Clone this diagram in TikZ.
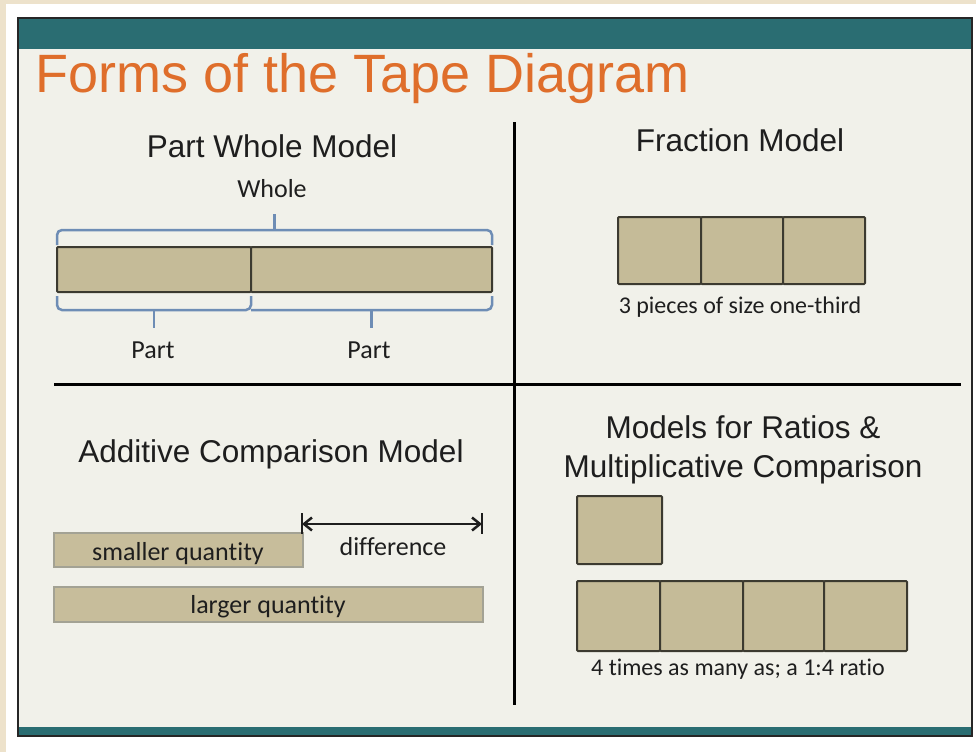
\documentclass[tikz,border=0pt]{standalone}
\usepackage{fontspec}
\setmainfont{Liberation Sans}
\newfontfamily\lblfont[Ligatures=NoCommon]{Carlito}
\usetikzlibrary{arrows.meta,calc}
\definecolor{pagebeige}{HTML}{EDE2CB}
\definecolor{slidebg}{HTML}{F1F1EA}
\definecolor{slideteal}{HTML}{2A6D72}
\definecolor{titleorange}{HTML}{DF6E2B}
\definecolor{tapefill}{HTML}{C5BB98}
\definecolor{tapeline}{HTML}{3C3A30}
\definecolor{qfill}{HTML}{C7BD9B}
\definecolor{qline}{HTML}{A3A294}
\definecolor{braceblue}{HTML}{6E8DB5}
\definecolor{inkdark}{HTML}{1E1E1E}
\begin{document}
\begin{tikzpicture}[x=1pt,y=-1pt,
  cellbox/.style={draw=tapeline, fill=tapefill, line width=2pt, anchor=north west, inner sep=0pt, outer sep=0pt, rounded corners=1pt},
  qbar/.style={draw=qline, fill=qfill, line width=1.5pt, anchor=north west, inner sep=0pt, outer sep=0pt},
  bracepath/.style={draw=braceblue, line width=2.5pt, rounded corners=5pt},
  divider/.style={draw=black, line width=3pt},
  heading/.style={anchor=base, inner sep=0pt, text=inkdark, font=\fontsize{31.5}{38}\selectfont},
  lbl/.style={anchor=base, inner sep=0pt, text=inkdark, font=\lblfont\fontsize{26}{30}\selectfont},
  capt/.style={anchor=base, inner sep=0pt, text=inkdark, font=\lblfont\fontsize{24}{28}\selectfont},
  dline/.style={draw=inkdark, line width=2.5pt}
]
\useasboundingbox (0,0) rectangle (976,752);
% page and slide
\fill[white] (0,0) rectangle (976,752);
\fill[pagebeige] (0,0) rectangle (6,752);
\fill[pagebeige] (0,0) rectangle (976,4);
\fill[slidebg] (18,18) rectangle (972,736);
\fill[slideteal] (18,18) rectangle (972,49);
\fill[slideteal] (18,727) rectangle (972,736);
\draw[black!85, line width=1.5pt] (18,18) rectangle (972,736);

\node[anchor=base west, inner sep=0pt, text=titleorange, font=\fontsize{54}{60}\selectfont] (title) at (35,92) {Forms of the Tape Diagram};

% dividers
\coordinate (hl) at (54,384);
\coordinate (hr) at (961,384);
\coordinate (vt) at (514,122);
\coordinate (vb) at (514,705);
\draw[divider] (hl) -- (hr);
\draw[divider] (vt) -- (vb);

% ---------- Part Whole Model ----------
\node[heading] (pwh) at (272,157) {Part Whole Model};
\node[cellbox, minimum width=194pt, minimum height=45pt] (pw1) at (57,247) {};
\node[cellbox, minimum width=241pt, minimum height=45pt] (pw2) at (251,247) {};
\node[lbl] (whole) at (272,197) {Whole};
\draw[bracepath] ($(pw1.north west)+(0,-2)$) -- ($(pw1.north west)+(0,-17)$) -- ($(pw2.north east)+(0,-17)$) -- ($(pw2.north east)+(0,-2)$);
\coordinate (wt) at ($(pw1.north west)!0.5!(pw2.north east)$);
\draw[draw=braceblue, line width=2.5pt] ($(wt)+(0,-17)$) -- ($(wt)+(0,-33)$);
\draw[bracepath] ($(pw1.south west)+(0,4)$) -- ($(pw1.south west)+(0,18)$) -- ($(pw1.south east)+(0,18)$) -- ($(pw1.south east)+(0,4)$);
\draw[bracepath] ($(pw2.south west)+(0,18)$) -- ($(pw2.south east)+(0,18)$) -- ($(pw2.south east)+(0,4)$);
\coordinate (p1t) at ($(pw1.south west)!0.5!(pw1.south east)$);
\coordinate (p2t) at ($(pw2.south west)!0.5!(pw2.south east)$);
\draw[draw=braceblue, line width=2.5pt] ($(p1t)+(0,18)$) -- ($(p1t)+(0,36)$);
\draw[draw=braceblue, line width=2.5pt] ($(p2t)+(0,18)$) -- ($(p2t)+(0,36)$);
\node[lbl] (part1) at (153,358) {Part};
\node[lbl] (part2) at (369,358) {Part};

% ---------- Fraction Model ----------
\node[heading] (frh) at (740,151) {Fraction Model};
\node[cellbox, minimum width=83pt, minimum height=67pt] (f1) at (618,217) {};
\node[cellbox, minimum width=82pt, minimum height=67pt] (f2) at (701,217) {};
\node[cellbox, minimum width=82pt, minimum height=67pt] (f3) at (783,217) {};
\node[capt] (frc) at (740,313) {3 pieces of size one-third};

% ---------- Additive Comparison Model ----------
\node[heading] (ach) at (271,462) {Additive Comparison Model};
\node[qbar, minimum width=249pt, minimum height=34pt] (sq) at (54,533) {};
\node[lbl] (sqt) at (178,560) {smaller quantity};
\node[qbar, minimum width=429pt, minimum height=35pt] (lq) at (54,587) {};
\node[lbl] (lqt) at (268,613) {larger quantity};
\coordinate (d1) at (302,524);
\coordinate (d2) at (482,524);
\draw[dline] ($(d1)+(0,-11)$) -- ($(d1)+(0,10)$);
\draw[dline] ($(d2)+(0,-11)$) -- ($(d2)+(0,10)$);
\draw[dline, {Straight Barb[length=8pt,width=13pt]}-{Straight Barb[length=8pt,width=13pt]}] (d1) -- (d2);
\node[lbl] (dif) at (393,555) {difference};

% ---------- Models for Ratios ----------
\node[heading] (rh1) at (743,438) {Models for Ratios \&};
\node[heading] (rh2) at (743,477) {Multiplicative Comparison};
\node[cellbox, minimum width=85pt, minimum height=68pt] (r0) at (577,496) {};
\node[cellbox, minimum width=83pt, minimum height=70pt] (r1) at (577,581) {};
\node[cellbox, minimum width=83pt, minimum height=70pt] (r2) at (660,581) {};
\node[cellbox, minimum width=81pt, minimum height=70pt] (r3) at (743,581) {};
\node[cellbox, minimum width=83pt, minimum height=70pt] (r4) at (824,581) {};
\node[capt] (rc) at (738,675) {4 times as many as; a 1:4 ratio};
\end{tikzpicture}
\end{document}
